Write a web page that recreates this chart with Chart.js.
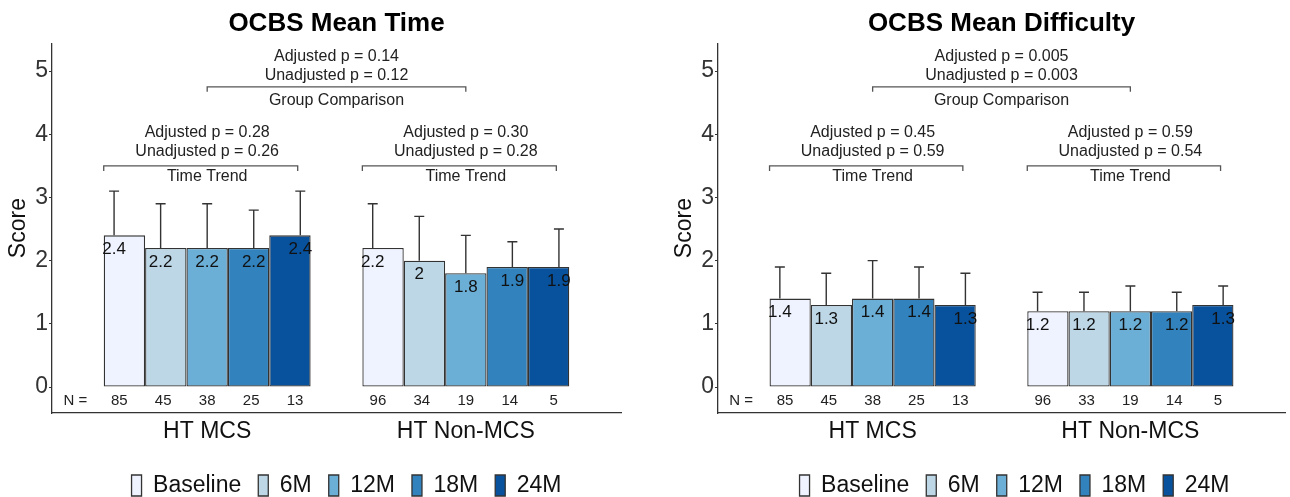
<!DOCTYPE html>
<html>
<head>
<meta charset="utf-8">
<script src="https://cdn.jsdelivr.net/npm/chart.js@4.4.0/dist/chart.umd.min.js"></script>
<style>
  html, body { margin: 0; padding: 0; background: #fff; overflow: hidden; width: 1290px; height: 497px; }
  .panel { position: absolute; top: 0; width: 645px; height: 507px; }
  #left { left: 0; }
  #right { left: 645px; }
</style>
</head>
<body>
<div class="panel" id="left"><canvas id="timeChart"></canvas></div>
<div class="panel" id="right"><canvas id="difficultyChart"></canvas></div>
<script>
const categories = ['HT MCS', 'HT Non-MCS'];
const timepoints = ['Baseline', '6M', '12M', '18M', '24M'];
const colors = ['#eff3ff', '#bdd7e7', '#6baed6', '#3182bd', '#08519c'];
const yTicks = [0, 1, 2, 3, 4, 5];

// one row per timepoint, values for [HT MCS, HT Non-MCS]
const timeMean = [[2.4, 2.2], [2.2, 2.0], [2.2, 1.8], [2.2, 1.9], [2.4, 1.9]];
const timeSd = [[0.7, 0.7], [0.7, 0.7], [0.7, 0.6], [0.6, 0.4], [0.7, 0.6]];
const timeN = [[85, 96], [45, 34], [38, 19], [25, 14], [13, 5]];
const timeGroupP = ['0.14', '0.12'];
const timeTrendP = [['0.28', '0.26'], ['0.30', '0.28']];

const diffMean = [[1.4, 1.2], [1.3, 1.2], [1.4, 1.2], [1.4, 1.2], [1.3, 1.3]];
const diffSd = [[0.5, 0.3], [0.5, 0.3], [0.6, 0.4], [0.5, 0.3], [0.5, 0.3]];
const diffN = [[85, 96], [45, 33], [38, 19], [25, 14], [13, 5]];
const diffGroupP = ['0.005', '0.003'];
const diffTrendP = [['0.45', '0.59'], ['0.59', '0.54']];

const FONT = '"Liberation Sans", Arial, sans-serif';
Chart.defaults.font.family = FONT;

// error bars, value labels, N counts and the p-value brackets
function makeAnnotations(means, sds, counts, groupP, trendP, legendShift) {
    return {
        id: 'annotations',
        afterLayout(chart) {
            // legend sits a little right of the panel centre in the original
            chart.legend.left += legendShift;
            chart.legend.right += legendShift;
        },
        afterDatasetsDraw(chart) {
            const ctx = chart.ctx;
            const px = v => chart.scales.x.getPixelForValue(v);
            const py = v => chart.scales.y.getPixelForValue(v);
            ctx.save();

            ctx.strokeStyle = '#333';
            ctx.lineWidth = 1.4;
            means.forEach((row, i) => row.forEach((m, c) => {
                const x = px(c + 1 + (i - 2) * 0.18);
                const top = py(m + sds[i][c]);
                ctx.beginPath();
                ctx.moveTo(x, py(m));
                ctx.lineTo(x, top);
                ctx.moveTo(x - 5, top);
                ctx.lineTo(x + 5, top);
                ctx.stroke();
            }));

            ctx.textAlign = 'center';
            ctx.textBaseline = 'middle';
            ctx.fillStyle = '#111';
            ctx.font = '17px ' + FONT;
            means.forEach((row, i) => row.forEach((m, c) => {
                ctx.fillText(String(m), px(c + 1 + (i - 2) * 0.18), py(m) + 14);
            }));

            ctx.fillStyle = '#222';
            ctx.font = '15px ' + FONT;
            ctx.fillText('N =', px(0.49), py(-0.22));
            counts.forEach((row, i) => row.forEach((n, c) => {
                ctx.fillText(String(n), px(c + 1 + (i - 2) * 0.17), py(-0.22));
            }));

            ctx.strokeStyle = '#555';
            ctx.lineWidth = 1.3;
            const bracket = (a, b, lvl) => {
                ctx.beginPath();
                ctx.moveTo(px(a), py(lvl - 0.08));
                ctx.lineTo(px(a), py(lvl));
                ctx.lineTo(px(b), py(lvl));
                ctx.lineTo(px(b), py(lvl - 0.08));
                ctx.stroke();
            };
            ctx.font = '16px ' + FONT;
            bracket(1, 2, 4.75);
            ctx.fillText('Adjusted p = ' + groupP[0], px(1.5), py(5.23));
            ctx.fillText('Unadjusted p = ' + groupP[1], px(1.5), py(4.92));
            ctx.fillText('Group Comparison', px(1.5), py(4.53));
            trendP.forEach((p, c) => {
                bracket(c + 0.6, c + 1.35, 3.5);
                ctx.fillText('Adjusted p = ' + p[0], px(c + 1), py(4.02));
                ctx.fillText('Unadjusted p = ' + p[1], px(c + 1), py(3.72));
                ctx.fillText('Time Trend', px(c + 1), py(3.33));
            });
            ctx.restore();
        }
    };
}

function makeChart(canvasId, title, means, sds, counts, groupP, trendP, axisWidth, rightPad, scorePad, legendShift) {
    const datasets = timepoints.map((tp, i) => ({
        label: tp,
        data: means[i].map((v, c) => ({ x: c + 1, y: v })),
        backgroundColor: colors[i],
        borderColor: '#333',
        borderWidth: 1.3,
        borderSkipped: false,
        categoryPercentage: 0.8,
        barPercentage: 1.0
    }));

    return new Chart(document.getElementById(canvasId), {
        type: 'bar',
        data: { datasets },
        options: {
            responsive: true,
            maintainAspectRatio: false,
            animation: false,
            layout: { padding: { left: 0, right: rightPad, top: 0, bottom: 0 } },
            plugins: {
                title: {
                    display: true,
                    text: title,
                    fullSize: false,
                    color: '#000',
                    font: { size: 26, weight: 'bold' },
                    padding: { top: 8, bottom: 4 }
                },
                legend: {
                    position: 'bottom',
                    fullSize: false,
                    labels: {
                        boxWidth: 10,
                        boxHeight: 21,
                        padding: 17,
                        color: '#111',
                        font: { size: 23 }
                    }
                },
                tooltip: { enabled: false }
            },
            scales: {
                x: {
                    type: 'linear',
                    min: 0.4,
                    max: 2.6,
                    offset: false,
                    afterBuildTicks: s => { s.ticks = categories.map((_, c) => ({ value: c + 1 })); },
                    afterFit: s => { s.height = 44; },
                    ticks: {
                        callback: v => categories[v - 1],
                        color: '#111',
                        padding: 0,
                        font: { size: 23, lineHeight: 0.9 }
                    },
                    grid: { display: false },
                    border: { display: true, color: '#333', width: 1.3 }
                },
                y: {
                    min: -0.41,
                    max: 5.44,
                    afterBuildTicks: s => { s.ticks = yTicks.map(v => ({ value: v })); },
                    afterFit: s => { s.width = axisWidth; },
                    ticks: { color: '#333', padding: 1, font: { size: 23 } },
                    grid: { drawOnChartArea: false, tickLength: 3, color: '#333' },
                    border: { display: true, color: '#333', width: 1.3 },
                    title: {
                        display: true,
                        text: 'Score',
                        color: '#111',
                        font: { size: 23 },
                        padding: { top: scorePad, bottom: 0 }
                    }
                }
            }
        },
        plugins: [makeAnnotations(means, sds, counts, groupP, trendP, legendShift)]
    });
}

makeChart('timeChart', 'OCBS Mean Time', timeMean, timeSd, timeN, timeGroupP, timeTrendP, 52, 24, 5, 10);
makeChart('difficultyChart', 'OCBS Mean Difficulty', diffMean, diffSd, diffN, diffGroupP, diffTrendP, 73, 5, 26, 13);
</script>
</body>
</html>
